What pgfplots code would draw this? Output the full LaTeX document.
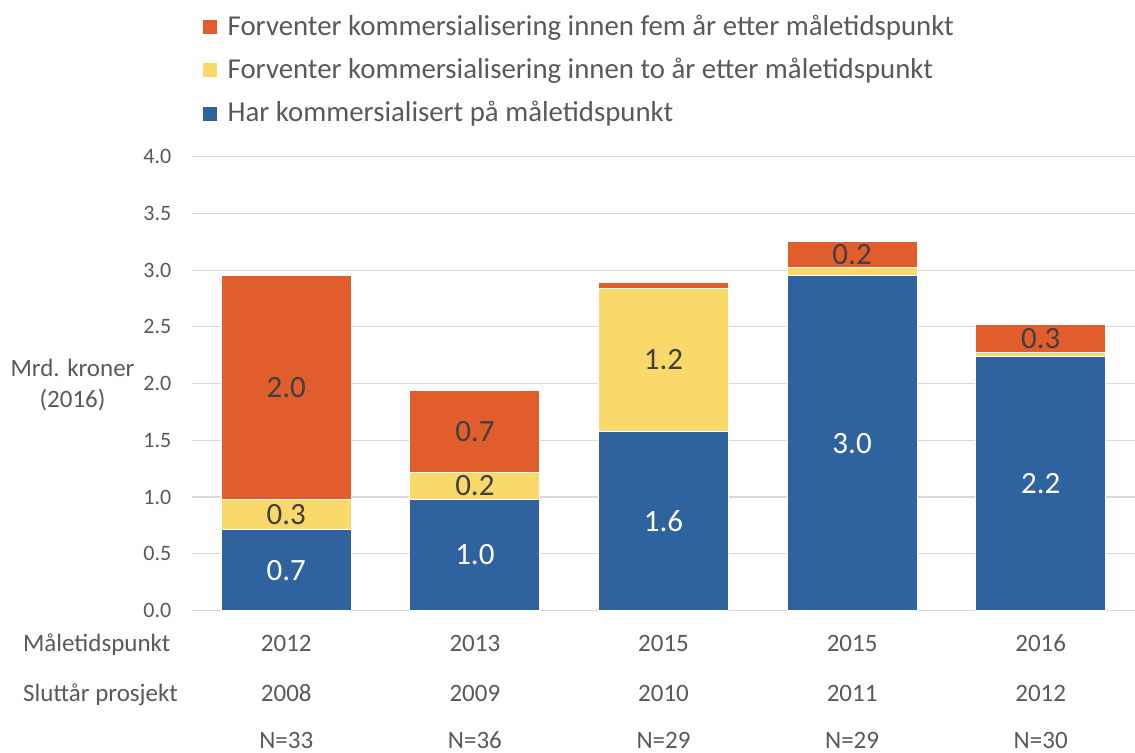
\documentclass[border=0pt]{standalone}
\usepackage{pgfplots}
\pgfplotsset{compat=1.18}
\usepackage{pgfplotstable}
\usepackage{fontspec}
\setmainfont{Carlito}
\definecolor{cOr}{RGB}{226,93,44}
\definecolor{cYe}{RGB}{249,217,106}
\definecolor{cBl}{RGB}{46,99,160}
\definecolor{cTx}{RGB}{89,89,89}
\definecolor{cLb}{RGB}{64,64,64}
\definecolor{cGr}{RGB}{217,217,217}
\pgfplotstableread{
x b y o lb ly lo
0 0.71 0.27 1.97 0.7 0.3 2.0
1 0.98 0.24 0.72 1.0 0.2 0.7
2 1.58 1.26 0.05 1.6 1.2 {}
3 2.95 0.07 0.23 3.0 {} 0.2
4 2.24 0.03 0.25 2.2 {} 0.3
}\data
\newcommand{\lblfont}{\fontsize{12.5}{15.5}\selectfont}
\begin{document}
\begin{tikzpicture}
\begin{axis}[
  scale only axis, width=471.5pt, height=226.9pt,
  ybar stacked, bar width=0.69,
  xmin=-0.5, xmax=4.5, ymin=0, ymax=4,
  clip=false,
  axis line style={draw=none}, major tick style={draw=none},
  xtick=\empty, ytick={0,0.5,...,4},
  ymajorgrids, grid style={cGr, line width=0.6pt},
  yticklabel style={font=\fontsize{11}{13}\selectfont, text=cTx, inner sep=0pt, xshift=-10.15pt,
    /pgf/number format/.cd, fixed, fixed zerofill, precision=1, assume math mode=true},
  reverse legend,
  legend style={at={(rel axis cs:0,1)}, anchor=north west, xshift=4.85pt, yshift=70.85pt,
    inner sep=0pt, outer sep=0pt,
    draw=none, fill=none, font=\fontsize{14.4}{16}\selectfont, text=cTx,
    nodes={inner sep=0pt, text height=10pt, text depth=3.5pt},
    row sep=8.2pt, /tikz/every odd column/.append style={column sep=5pt}},
  legend cell align=left,
  legend image code/.code={\fill[#1] (0pt,-3.0pt) rectangle (7.5pt,4.5pt);},
  nodes near coords, point meta=explicit symbolic,
  every node near coord/.append style={anchor=center, font=\fontsize{15.5}{18}\selectfont},
]
\addplot[fill=cBl, draw=white, line width=0.5pt,
  every node near coord/.append style={text=white}]
  table[x=x, y=b, meta=lb] {\data};
\addlegendentry{Har kommersialisert på måletidspunkt}
\addplot[fill=cYe, draw=white, line width=0.5pt,
  every node near coord/.append style={text=cLb}]
  table[x=x, y=y, meta=ly] {\data};
\addlegendentry{Forventer kommersialisering innen to år etter måletidspunkt}
\addplot[fill=cOr, draw=white, line width=0.5pt,
  every node near coord/.append style={text=cLb}]
  table[x=x, y=o, meta=lo] {\data};
\addlegendentry{Forventer kommersialisering innen fem år etter måletidspunkt}
\coordinate (O) at (rel axis cs:0,0);
% category rows
\node[anchor=base, font=\lblfont, text=cTx, yshift=-20.6pt] at (axis cs:0,0) {2012};
\node[anchor=base, font=\lblfont, text=cTx, yshift=-20.6pt] at (axis cs:1,0) {2013};
\node[anchor=base, font=\lblfont, text=cTx, yshift=-20.6pt] at (axis cs:2,0) {2015};
\node[anchor=base, font=\lblfont, text=cTx, yshift=-20.6pt] at (axis cs:3,0) {2015};
\node[anchor=base, font=\lblfont, text=cTx, yshift=-20.6pt] at (axis cs:4,0) {2016};
\node[anchor=base, font=\lblfont, text=cTx, yshift=-45.3pt] at (axis cs:0,0) {2008};
\node[anchor=base, font=\lblfont, text=cTx, yshift=-45.3pt] at (axis cs:1,0) {2009};
\node[anchor=base, font=\lblfont, text=cTx, yshift=-45.3pt] at (axis cs:2,0) {2010};
\node[anchor=base, font=\lblfont, text=cTx, yshift=-45.3pt] at (axis cs:3,0) {2011};
\node[anchor=base, font=\lblfont, text=cTx, yshift=-45.3pt] at (axis cs:4,0) {2012};
\node[anchor=base, font=\lblfont, text=cTx, yshift=-68.8pt] at (axis cs:0,0) {N=33};
\node[anchor=base, font=\lblfont, text=cTx, yshift=-68.8pt] at (axis cs:1,0) {N=36};
\node[anchor=base, font=\lblfont, text=cTx, yshift=-68.8pt] at (axis cs:2,0) {N=29};
\node[anchor=base, font=\lblfont, text=cTx, yshift=-68.8pt] at (axis cs:3,0) {N=29};
\node[anchor=base, font=\lblfont, text=cTx, yshift=-68.8pt] at (axis cs:4,0) {N=30};
\node[anchor=base west, inner sep=0pt, font=\lblfont, text=cTx, xshift=-84.65pt, yshift=-20.6pt] at (rel axis cs:0,0) {Måletidspunkt};
\node[anchor=base west, inner sep=0pt, font=\lblfont, text=cTx, xshift=-84.65pt, yshift=-45.3pt] at (rel axis cs:0,0) {Sluttår prosjekt};
\node[align=center, inner sep=0pt, font=\lblfont, text=cTx, xshift=-59.75pt, yshift=112.75pt] at (rel axis cs:0,0) {Mrd. kroner\\(2016)};
\end{axis}
\pgfresetboundingbox
\path[use as bounding box] (O) ++(-96pt,-70.75pt) rectangle ++(567.5pt,376pt);
\end{tikzpicture}
\end{document}
